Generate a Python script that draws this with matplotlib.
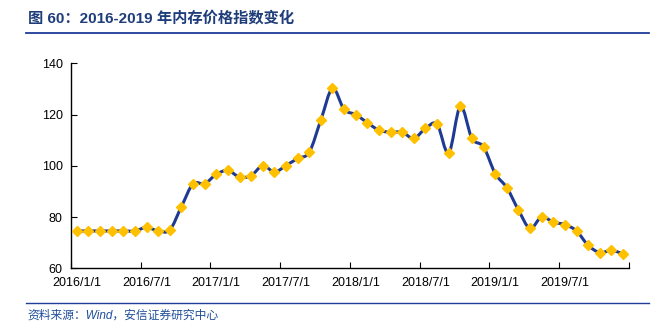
import matplotlib
matplotlib.use("Agg")
import matplotlib.pyplot as plt
from matplotlib.path import Path
from matplotlib.patches import PathPatch
from matplotlib.lines import Line2D
import numpy as np

plt.rcParams["font.family"] = ["Liberation Sans", "Noto Sans CJK SC", "DejaVu Sans"]

# 内存价格指数，月度 2016/1 - 2019/12
index_vals = [74.6, 74.6, 74.6, 74.6, 74.6, 74.6, 76.0, 74.6, 75.0, 84.1,
              93.0, 93.0, 96.7, 98.2, 95.6, 96.2, 100.1, 97.6, 100.1, 102.9,
              105.3, 117.9, 130.2, 122.0, 120.0, 116.8, 113.9, 113.1, 113.1, 110.7,
              114.6, 116.2, 105.0, 123.2, 110.7, 107.4, 97.0, 91.5, 82.8, 75.6,
              80.1, 78.0, 77.1, 74.6, 69.0, 66.2, 67.0, 65.7]
tick_labels = ["2016/1/1", "2016/7/1", "2017/1/1", "2017/7/1",
               "2018/1/1", "2018/7/1", "2019/1/1", "2019/7/1"]

NAVY = "#1F3A93"
GOLD = "#FFC000"
TITLE_BLUE = "#1F3D7A"

fig = plt.figure(figsize=(6.64, 3.33), dpi=100)
ax = fig.add_axes([0.107, 0.194, 0.840, 0.616])

x = np.arange(len(index_vals))
y = np.array(index_vals)

# 平滑曲线：Catmull-Rom 转三次贝塞尔
pts = np.column_stack([x, y])
ext = np.vstack([pts[0], pts, pts[-1]])
verts = [tuple(pts[0])]
codes = [Path.MOVETO]
for i in range(len(pts) - 1):
    p0, p1, p2, p3 = ext[i], ext[i + 1], ext[i + 2], ext[i + 3]
    c1 = p1 + (p2 - p0) / 6.0
    c2 = p2 - (p3 - p1) / 6.0
    verts += [tuple(c1), tuple(c2), tuple(p2)]
    codes += [Path.CURVE4] * 3
ax.add_patch(PathPatch(Path(verts, codes), fill=False, edgecolor=NAVY,
                       lw=2.2, capstyle="round", joinstyle="round", zorder=2))
ax.plot(x, y, ls="none", marker="D", ms=5.2, color=GOLD, mec=GOLD, zorder=3)

ax.set_xlim(-0.5, len(index_vals) - 0.5)
ax.set_ylim(60, 140)
ax.set_yticks([60, 80, 100, 120, 140])

# 类别轴：刻度线在边界，标签在类别中心
ax.set_xticks(np.arange(-0.5, len(index_vals), 6))
ax.set_xticklabels([])
ax.set_xticks(np.arange(0, len(index_vals), 6), minor=True)
ax.set_xticklabels(tick_labels, minor=True)
ax.tick_params(axis="x", which="major", direction="in", length=4, width=0.8)
ax.tick_params(axis="x", which="minor", length=0, pad=6, labelsize=9)
ax.tick_params(axis="y", direction="in", length=4, width=0.8, labelsize=9, pad=6)

for s in ["top", "right"]:
    ax.spines[s].set_visible(False)
for s in ["left", "bottom"]:
    ax.spines[s].set_linewidth(1.0)
    ax.spines[s].set_color("black")

fig.text(0.042, 0.945, "图 60：2016-2019 年内存价格指数变化", fontsize=11,
         fontweight="bold", color=TITLE_BLUE, va="center", ha="left")
fig.add_artist(Line2D([0.039, 0.978], [0.902, 0.902], transform=fig.transFigure,
                      color="#1F3D99", lw=1.3))
fig.add_artist(Line2D([0.039, 0.978], [0.090, 0.090], transform=fig.transFigure,
                      color="#1F3D99", lw=1.0))
fig.text(0.042, 0.052, "资料来源：Wind，安信证券研究中心", fontsize=8.5,
         style="italic", color="#1F4E9A", va="center", ha="left")

fig.savefig("out.png", dpi=100)
